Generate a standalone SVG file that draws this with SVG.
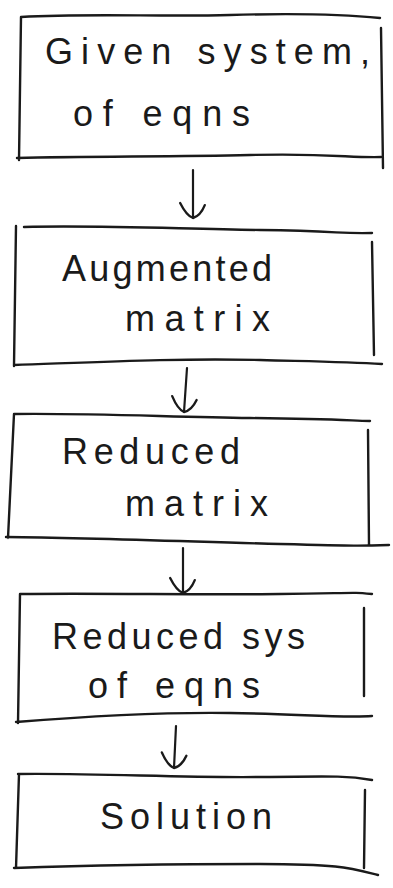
<svg xmlns="http://www.w3.org/2000/svg" width="393" height="888" viewBox="0 0 393 888">
<style>
.b{fill:none;stroke:#1a1a1a;stroke-width:2.4;stroke-linecap:round;stroke-linejoin:round}
.c{fill:none;stroke:#1a1a1a;stroke-width:2.2;stroke-linecap:round}
.t{font-family:"Liberation Sans","DejaVu Sans",sans-serif;font-size:36px;fill:#1a1a1a}
</style>
<defs>
<marker id="h" markerUnits="userSpaceOnUse" markerWidth="30" markerHeight="30" refX="0" refY="0" viewBox="-16 -14 18 28" orient="auto">
<path d="M-12,-11 Q-2,-7 0,0 Q-2,6 -14,12" fill="none" stroke="#1a1a1a" stroke-width="2.2" stroke-linecap="round"/>
</marker>
</defs>
<rect width="393" height="888" fill="#fff"/>
<g id="n1">
<path class="b" d="M21,17 C90,13 160,17 230,15 S340,14 380,18 M381,28 L383,168 M17,158 C90,156 170,157 250,155 S350,158 381,157 M21,17 L19,160"/>
<text class="t" x="45" y="64" textLength="325" lengthAdjust="spacing">Given system,</text>
<text class="t" x="73" y="126" textLength="177" lengthAdjust="spacing">of eqns</text>
</g>
<g id="n2">
<path class="b" d="M24,227 C100,225 180,229 260,230 S340,234 372,233 M372,242 L374,355 M14,365 C100,362 180,358 260,360 S350,362 382,364 M16,226 L14,366"/>
<text class="t" x="62" y="281" textLength="210" lengthAdjust="spacing">Augmented</text>
<text class="t" x="125" y="331" textLength="145" lengthAdjust="spacing">matrix</text>
</g>
<g id="n3">
<path class="b" d="M14,414 C90,413 170,417 250,418 S340,420 370,421 M368,430 L369,545 M6,537 C100,538 200,542 280,544 S360,546 389,545 M14,414 L8,538"/>
<text class="t" x="62" y="464" textLength="178" lengthAdjust="spacing">Reduced</text>
<text class="t" x="125" y="516" textLength="143" lengthAdjust="spacing">matrix</text>
</g>
<g id="n4">
<path class="b" d="M20,594 C100,593 200,595 280,594 S350,592 372,594 M364,608 L364,696 M16,722 C90,716 160,712 230,713 S340,718 372,716 M20,594 L18,723"/>
<text class="t" x="52" y="649" textLength="253" lengthAdjust="spacing">Reduced sys</text>
<text class="t" x="88" y="698" textLength="172" lengthAdjust="spacing">of eqns</text>
</g>
<g id="n5">
<path class="b" d="M18,774 C100,773 180,778 260,777 S350,776 372,780 M365,790 L364,868 M14,868 C100,865 180,864 260,864 S350,868 378,875 M19,774 L16,868"/>
<text class="t" x="100" y="829" textLength="172" lengthAdjust="spacing">Solution</text>
</g>
<g id="connectors">
<path class="c" d="M193,170 L193,218" marker-end="url(#h)"/>
<path class="c" d="M187,368 L184,412" marker-end="url(#h)"/>
<path class="c" d="M183,548 L183,593" marker-end="url(#h)"/>
<path class="c" d="M176,726 L174,768" marker-end="url(#h)"/>
</g>
</svg>
